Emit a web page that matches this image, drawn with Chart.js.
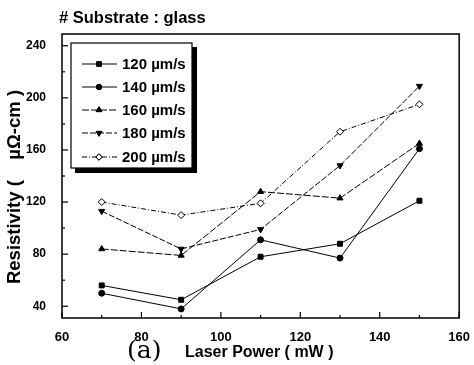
<!DOCTYPE html>
<html lang="en">
<head>
<meta charset="UTF-8">
<title>Resistivity vs Laser Power</title>
<script src="https://cdn.jsdelivr.net/npm/chart.js"></script>
<style>
    html, body { margin: 0; padding: 0; background: #fff; }
    #wrap { width: 474px; height: 365px; position: relative; }
</style>
</head>
<body>
<div id="wrap"><canvas id="chart" width="474" height="365"></canvas></div>
<script>
    // laser power (mW)
    const power = [70, 90, 110, 130, 150];
    const speeds = ['120 \u00b5m/s', '140 \u00b5m/s', '160 \u00b5m/s', '180 \u00b5m/s', '200 \u00b5m/s'];
    // resistivity (uOhm-cm) per scan speed
    const r120 = [56, 45, 78, 88, 121];
    const r140 = [50, 38, 91, 77, 161];
    const r160 = [84, 79, 128, 123, 165];
    const r180 = [113, 84, 99, 148, 209];
    const r200 = [120, 110, 119, 174, 195];
    const yTicks = [40, 80, 120, 160, 200, 240];
    const xTicks = [60, 80, 100, 120, 140, 160];

    const FONT = '"Liberation Sans", Arial, sans-serif';

    const styles = [
        { pointStyle: 'rect', rotation: 0, fill: '#000', dash: [] },
        { pointStyle: 'circle', rotation: 0, fill: '#000', dash: [] },
        { pointStyle: 'triangle', rotation: 0, fill: '#000', dash: [7, 2] },
        { pointStyle: 'triangle', rotation: 180, fill: '#000', dash: [6, 2] },
        { pointStyle: 'rectRot', rotation: 0, fill: '#fff', dash: [5, 2, 1, 2] }
    ];
    const series = [r120, r140, r160, r180, r200];

    const datasets = series.map((vals, i) => ({
        label: speeds[i],
        data: power.map((p, j) => ({ x: p, y: vals[j] })),
        borderColor: '#000',
        borderWidth: 1,
        borderDash: styles[i].dash,
        pointStyle: styles[i].pointStyle,
        rotation: styles[i].rotation,
        pointRadius: i === 1 ? 3 : 3.5,
        pointBackgroundColor: styles[i].fill,
        pointBorderColor: '#000',
        pointBorderWidth: 1,
        tension: 0
    }));

    const decor = {
        id: 'decor',
        afterDraw(chart) {
            const ctx = chart.ctx;
            const a = chart.chartArea;
            const xs = chart.scales.x, ys = chart.scales.y;
            ctx.save();
            // frame
            ctx.strokeStyle = '#000';
            ctx.lineWidth = 1.5;
            ctx.strokeRect(a.left, a.top, a.right - a.left, a.bottom - a.top);
            // inward ticks
            ctx.lineWidth = 1.2;
            for (let v = 60; v <= 160; v += 10) {
                const px = xs.getPixelForValue(v);
                const len = v % 20 === 0 ? 6 : 3;
                ctx.beginPath();
                ctx.moveTo(px, a.bottom); ctx.lineTo(px, a.bottom - len);
                ctx.stroke();
            }
            for (let v = 40; v <= 240; v += 20) {
                const py = ys.getPixelForValue(v);
                const len = v % 40 === 0 ? 6 : 3;
                ctx.beginPath();
                ctx.moveTo(a.left, py); ctx.lineTo(a.left + len, py);
                ctx.stroke();
            }
            // title
            ctx.fillStyle = '#000';
            ctx.textBaseline = 'middle';
            ctx.textAlign = 'left';
            ctx.font = 'bold 16.5px ' + FONT;
            ctx.fillText('# Substrate : glass', 59, 18);
            // x axis title
            ctx.font = '25px "DejaVu Serif", serif';
            ctx.fillText('(a)', 127, 351);
            ctx.font = 'bold 16px ' + FONT;
            ctx.fillText('Laser Power ( mW )', 185, 353);
            // y axis title
            ctx.save();
            ctx.translate(15, 187);
            ctx.rotate(-Math.PI / 2);
            ctx.textAlign = 'center';
            ctx.font = 'bold 18.5px ' + FONT;
            ctx.fillText('Resistivity (    \u00b5\u03a9-cm )', 0, 0);
            ctx.restore();
            // legend box with shadow
            const bx = 71, by = 43, bw = 121, bh = 125;
            ctx.fillStyle = '#000';
            ctx.fillRect(bx + 4, by + bh, bw, 5);
            ctx.fillRect(bx + bw, by + 4, 5, bh + 1);
            ctx.fillStyle = '#fff';
            ctx.fillRect(bx, by, bw, bh);
            ctx.lineWidth = 1.2;
            ctx.strokeStyle = '#000';
            ctx.strokeRect(bx, by, bw, bh);
            const rows = [64, 87, 110, 133, 157];
            chart.data.datasets.forEach((ds, i) => {
                const y = rows[i];
                ctx.lineWidth = 1;
                ctx.setLineDash(ds.borderDash);
                ctx.beginPath();
                ctx.moveTo(82, y); ctx.lineTo(117, y);
                ctx.stroke();
                ctx.setLineDash([]);
                ctx.beginPath();
                Chart.helpers.drawPoint(ctx, {
                    pointStyle: ds.pointStyle, rotation: ds.rotation,
                    radius: ds.pointRadius - 0.3, borderWidth: 1
                }, 99, y);
                ctx.fillStyle = ds.pointBackgroundColor;
                ctx.fill();
                ctx.stroke();
                ctx.fillStyle = '#000';
                ctx.font = 'bold 15px ' + FONT;
                ctx.textAlign = 'left';
                ctx.fillText(ds.label, 122, y + 1);
            });
            ctx.restore();
        }
    };

    new Chart(document.getElementById('chart'), {
        type: 'line',
        data: { datasets },
        options: {
            responsive: false,
            animation: false,
            layout: { padding: { left: 0, right: 11, top: 34, bottom: 0 } },
            plugins: { legend: { display: false }, tooltip: { enabled: false } },
            scales: {
                x: {
                    type: 'linear',
                    min: 60, max: 160,
                    afterFit: s => { s.height = 47; },
                    afterBuildTicks: s => { s.ticks = xTicks.map(v => ({ value: v })); },
                    grid: { display: false },
                    border: { display: false },
                    ticks: { color: '#000', padding: 4, font: { family: FONT, size: 13, weight: 'bold' } }
                },
                y: {
                    min: 31, max: 249,
                    afterFit: s => { s.width = 62; },
                    afterBuildTicks: s => { s.ticks = yTicks.map(v => ({ value: v })); },
                    grid: { display: false },
                    border: { display: false },
                    ticks: { color: '#000', padding: 8, font: { family: FONT, size: 12, weight: 'bold' } }
                }
            }
        },
        plugins: [decor]
    });
</script>
</body>
</html>
